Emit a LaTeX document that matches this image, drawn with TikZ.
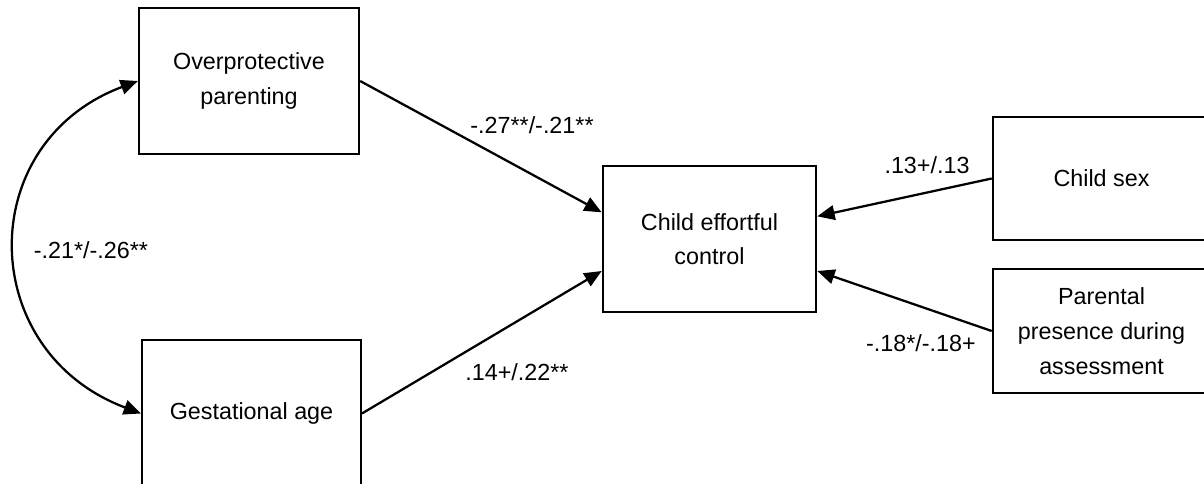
\documentclass[tikz,border=0pt]{standalone}
\usepackage{fontspec}
\setmainfont{Liberation Sans}
\usetikzlibrary{arrows.meta}

\begin{document}
\begin{tikzpicture}[x=0.75pt,y=-0.75pt,>={Triangle[length=13pt,width=11pt]},
                    line width=1.7pt,
                    font=\fontsize{17.5pt}{26pt}\selectfont]
  \tikzset{var/.style={draw,align=center,inner sep=0pt},
           coef/.style={inner sep=0pt}}
  \useasboundingbox (0,0) rectangle (1204,484);
  \clip (0,0) rectangle (1204,484);

 \node [var,minimum width=165pt,minimum height=110pt] (op) at (249,81) {Overprotective\\parenting};
 \node [var,minimum width=164pt,minimum height=110pt] (ga) at (251.5,413.5) {Gestational age};
 \node [var,minimum width=160pt,minimum height=110pt] (cec) at (709.5,239) {Child effortful\\control};
 \node [var,minimum width=163pt,minimum height=92pt] (cs) at (1101.5,178.5) {Child sex};
 \node [var,minimum width=163pt,minimum height=93pt] (pp) at (1101.5,331) {Parental\\presence during\\assessment};

 \node [coef] (lop) at (532,125) {-.27**/-.21**};
 \node [coef] (lga) at (517,372) {.14+/.22**};
 \node [coef] (lcs) at (927,165) {.13+/.13};
 \node [coef] (lpp) at (921,343) {-.18*/-.18+};
 \node [coef] (lcor) at (91,250) {-.21*/-.26**};

 \path[->] (op.east) edge ([yshift=20pt]cec.west)
           (ga.east) edge ([yshift=-24pt]cec.west)
           (cs.west) edge ([yshift=17pt]cec.east)
           (pp.west) edge ([yshift=-24pt]cec.east);

 % covariance
 \draw[<->] (op.west) .. controls +(-165,62) and +(-165,-62) .. (ga.west);
\end{tikzpicture}
\end{document}
